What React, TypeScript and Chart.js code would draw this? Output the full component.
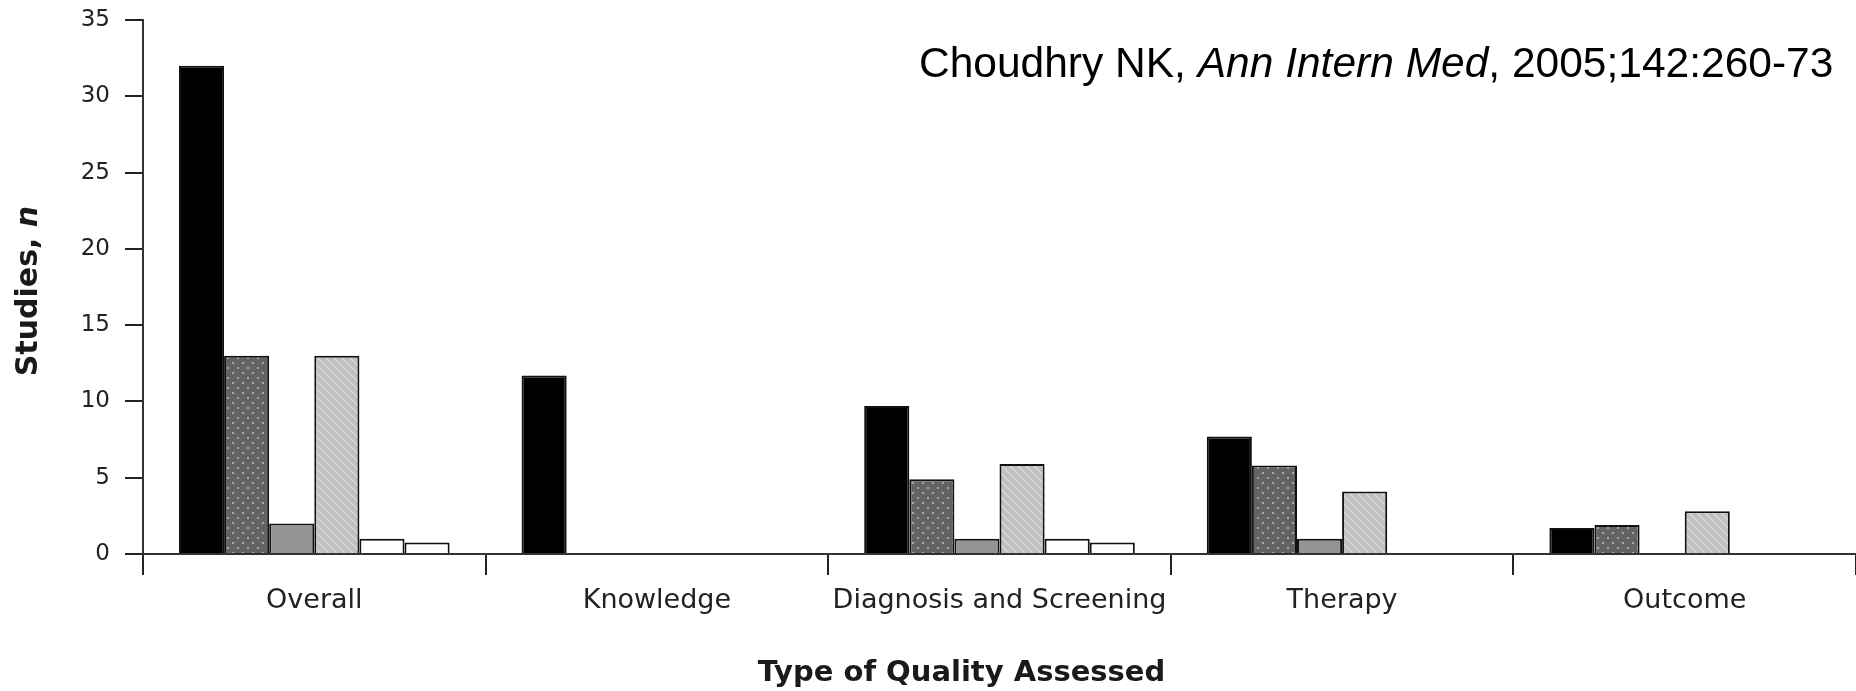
import React, { useEffect, useRef } from 'react';
import { Chart, registerables } from 'chart.js';

Chart.register(...registerables);

// ---- data ----
const categories = ['Overall', 'Knowledge', 'Diagnosis and Screening', 'Therapy', 'Outcome'];
const seriesBlack = [32, 11.7, 9.7, 7.7, 1.7];
const seriesDotted = [13, 0, 4.9, 5.8, 1.9];
const seriesGray = [2, 0, 1, 1, 0];
const seriesLight = [13, 0, 5.9, 4.1, 2.8];
const seriesWhiteA = [1, 0, 1, 0, 0];
const seriesWhiteB = [0.75, 0, 0.75, 0, 0];
const yTickValues = [0, 5, 10, 15, 20, 25, 30, 35];
const yTitleMain = 'Studies, ';
const yTitleItalic = 'n';
const xTitle = 'Type of Quality Assessed';
const citationA = 'Choudhry NK, ';
const citationB = 'Ann Intern Med';
const citationC = ', 2005;142:260-73';

function makePattern(size: number, bg: string, draw: (g: CanvasRenderingContext2D) => void) {
  const c = document.createElement('canvas');
  c.width = size;
  c.height = size;
  const g = c.getContext('2d') as CanvasRenderingContext2D;
  g.fillStyle = bg;
  g.fillRect(0, 0, size, size);
  draw(g);
  return g.createPattern(c, 'repeat') as CanvasPattern;
}

const textPlugin = {
  id: 'textPlugin',
  afterDraw(chart: any) {
    const { ctx, chartArea } = chart;
    const xs = chart.scales.x;
    ctx.save();
    ctx.fillStyle = '#1a1a1a';
    // y-axis title
    ctx.save();
    ctx.translate(29, (chartArea.top + chartArea.bottom) / 2 + 4);
    ctx.rotate(-Math.PI / 2);
    ctx.font = 'bold 30px "DejaVu Sans"';
    const w1 = ctx.measureText(yTitleMain).width;
    ctx.font = 'italic bold 30px "DejaVu Sans"';
    const w2 = ctx.measureText(yTitleItalic).width;
    const start = -(w1 + w2) / 2;
    ctx.textBaseline = 'middle';
    ctx.textAlign = 'left';
    ctx.font = 'bold 30px "DejaVu Sans"';
    ctx.fillText(yTitleMain, start, 0);
    ctx.font = 'italic bold 30px "DejaVu Sans"';
    ctx.fillText(yTitleItalic, start + w1, 0);
    ctx.restore();

    // x-axis title
    ctx.font = 'bold 29px "DejaVu Sans"';
    ctx.textAlign = 'center';
    ctx.textBaseline = 'alphabetic';
    ctx.fillText(xTitle, xs.getPixelForValue(2) - 38, 681);

    // citation
    ctx.fillStyle = '#000';
    ctx.textAlign = 'left';
    let x = 919;
    const y = 77;
    ctx.font = '42.5px "Liberation Sans"';
    ctx.fillText(citationA, x, y);
    x += ctx.measureText(citationA).width;
    ctx.font = 'italic 42.5px "Liberation Sans"';
    ctx.fillText(citationB, x, y);
    x += ctx.measureText(citationB).width;
    ctx.font = '42.5px "Liberation Sans"';
    ctx.fillText(citationC, x, y);
    ctx.restore();
  },
};

export default function App() {
  const ref = useRef<HTMLCanvasElement | null>(null);

  useEffect(() => {
    const canvas = ref.current;
    if (!canvas) return;

    const dots = makePattern(10, '#636363', (g) => {
      g.fillStyle = '#a8a8a8';
      g.fillRect(2, 2, 2, 2);
      g.fillRect(7, 7, 2, 2);
    });
    const cross = makePattern(4, '#969696', (g) => {
      g.fillStyle = '#838383';
      g.fillRect(0, 0, 1, 1);
      g.fillRect(2, 2, 1, 1);
    });
    const diag = makePattern(8, '#c0c0c0', (g) => {
      g.strokeStyle = '#d8d8d8';
      g.lineWidth = 1.5;
      g.beginPath();
      g.moveTo(-2, -2);
      g.lineTo(10, 10);
      g.moveTo(-6, 2);
      g.lineTo(2, 10);
      g.moveTo(2, -6);
      g.lineTo(10, 2);
      g.stroke();
    });

    const common = {
      borderColor: '#111',
      borderWidth: 2,
      borderSkipped: 'bottom' as const,
      categoryPercentage: 0.79,
      barPercentage: 1.0,
    };

    const chart = new Chart(canvas, {
      type: 'bar',
      data: {
        labels: categories,
        datasets: [
          { label: 'Series 1', data: seriesBlack, backgroundColor: '#000', ...common },
          { label: 'Series 2', data: seriesDotted, backgroundColor: dots, ...common },
          { label: 'Series 3', data: seriesGray, backgroundColor: cross, ...common },
          { label: 'Series 4', data: seriesLight, backgroundColor: diag, ...common },
          { label: 'Series 5', data: seriesWhiteA, backgroundColor: '#fff', ...common },
          { label: 'Series 6', data: seriesWhiteB, backgroundColor: '#fff', ...common },
        ],
      },
      options: {
        responsive: false,
        animation: false,
        devicePixelRatio: 1,
        layout: { padding: { left: 0, right: -7, top: 20, bottom: 0 } },
        plugins: {
          legend: { display: false },
          tooltip: { enabled: false },
          title: { display: false },
        },
        scales: {
          x: {
            type: 'category',
            offset: true,
            grid: {
              offset: true,
              drawOnChartArea: false,
              drawTicks: true,
              tickLength: 21,
              color: '#222',
              lineWidth: 2,
            },
            border: { display: true, color: '#333', width: 2 },
            ticks: {
              color: '#222',
              font: { family: '"DejaVu Sans"', size: 27 },
              padding: 10,
              maxRotation: 0,
              autoSkip: false,
            },
            afterFit: (axis: any) => {
              axis.height = 137;
              axis.paddingLeft = 0;
              axis.paddingRight = 0;
            },
          },
          y: {
            min: 0,
            max: 35,
            afterBuildTicks: (axis: any) => {
              axis.ticks = yTickValues.map((v) => ({ value: v }));
            },
            grid: {
              drawOnChartArea: false,
              drawTicks: true,
              tickLength: 18,
              color: '#222',
              lineWidth: 2,
            },
            border: { display: true, color: '#333', width: 2 },
            ticks: {
              color: '#222',
              font: { family: '"DejaVu Sans"', size: 23 },
              padding: 15,
            },
            afterFit: (axis: any) => {
              axis.width = 143;
              axis.paddingTop = 0;
              axis.paddingBottom = 0;
            },
          },
        },
      },
      plugins: [textPlugin],
    });

    return () => chart.destroy();
  }, []);

  return (
    <div style={{ position: 'fixed', left: 0, top: 0, width: 1856, height: 691, background: '#fff' }}>
      <canvas ref={ref} width={1856} height={691} style={{ display: 'block' }} />
    </div>
  );
}
